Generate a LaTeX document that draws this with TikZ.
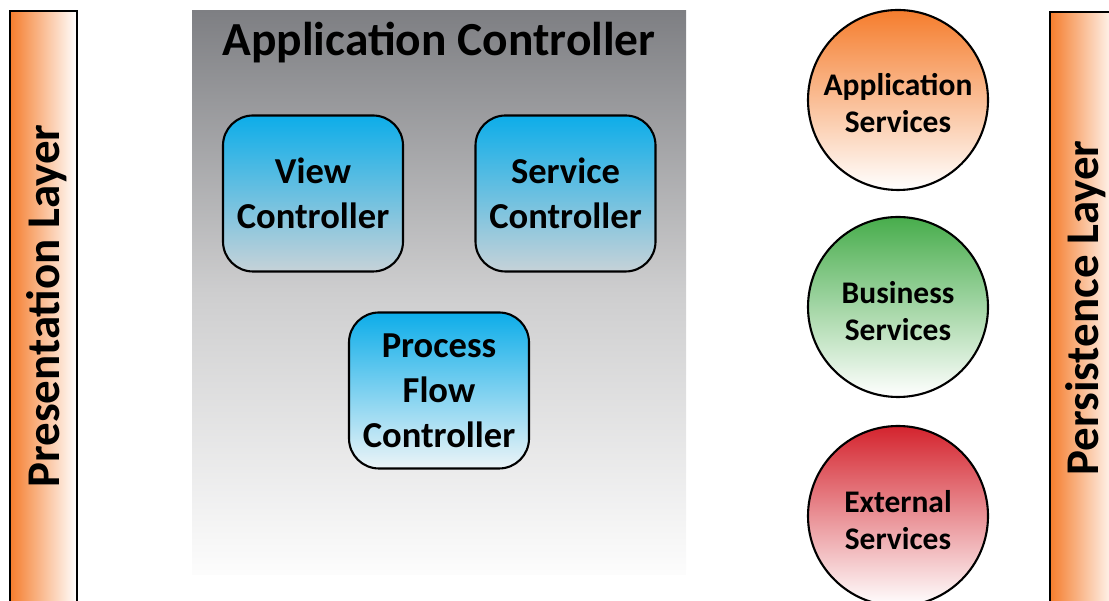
\documentclass[tikz,border=0pt]{standalone}
\usepackage{fontspec}
\setmainfont{Carlito}

\definecolor{barorange}{RGB}{245,125,45}
\definecolor{ctrlblue}{RGB}{13,173,233}
\definecolor{appgray}{RGB}{126,127,131}
\definecolor{midgray}{RGB}{206,206,207}
\definecolor{svcorange}{RGB}{245,125,45}
\definecolor{svcgreen}{RGB}{72,173,76}
\definecolor{svcred}{RGB}{212,36,46}

\begin{document}
\begin{tikzpicture}[
    ctrl/.style={draw=black,line width=1.2pt,rounded corners=0.6cm,
                 minimum width=3.6cm,minimum height=3.12cm,align=center,
                 font=\fontsize{20.8}{25.6}\selectfont\bfseries},
    svc/.style={circle,draw=black,line width=1.2pt,minimum size=3.6cm},
    svctext/.style={align=center,font=\fontsize{17.9}{21}\selectfont\bfseries},
    layer/.style={rotate=90,font=\fontsize{26.7}{32}\selectfont\bfseries}]
  \useasboundingbox (0,0) rectangle (22.18,12.02);
  \clip (0,0) rectangle (22.18,12.02);
  % side layers
  \draw[line width=1.2pt,left color=barorange,right color=white]
        (0.2,-0.5) rectangle (1.54,11.8);
  \draw[line width=1.2pt,left color=barorange,right color=white]
        (21.0,-0.5) rectangle (22.34,11.78);
  \node[layer] (pl1) at (0.93,5.9)  {Presentation Layer};
  \node[layer] (ps1) at (21.72,5.86) {Persistence Layer};
  % application controller
  \fill[top color=appgray,bottom color=white!99!black,middle color=midgray]
        (3.84,0.52) rectangle (13.72,11.8);
  \node[font=\fontsize{27}{32}\selectfont\bfseries] (ac1) at (8.78,11.16) {Application Controller};
  \node[ctrl,top color=ctrlblue,bottom color={rgb,255:red,198;green,210;blue,216}]
        (vc1) at (6.26,8.15) {View\\Controller};
  \node[ctrl,top color=ctrlblue,bottom color={rgb,255:red,198;green,210;blue,216}]
        (sc1) at (11.31,8.15) {Service\\Controller};
  \node[ctrl,top color=ctrlblue,bottom color={rgb,255:red,236;green,244;blue,247}]
        (pf1) at (8.78,4.21) {Process\\Flow\\Controller};
  % services
  \node[svc,top color=svcorange,bottom color=white] (as1) at (17.96,10.02) {};
  \node[svc,top color=svcgreen,bottom color=white]  (bs1) at (17.96,5.88)  {};
  \node[svc,top color=svcred,bottom color=white]    (es1) at (17.96,1.7)   {};
  \node[svctext] (ast1) at ([yshift=-0.07cm]as1.center) {Application\\Services};
  \node[svctext] (bst1) at ([yshift=-0.09cm]bs1.center) {Business\\Services};
  \node[svctext] (est1) at ([yshift=-0.09cm]es1.center) {External\\Services};
\end{tikzpicture}
\end{document}
